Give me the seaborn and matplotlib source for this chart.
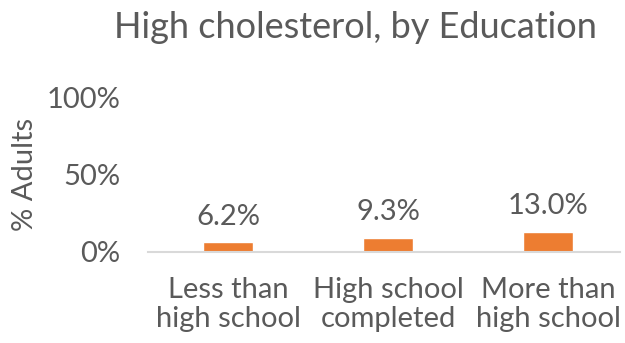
import matplotlib
matplotlib.use("Agg")
import matplotlib.pyplot as plt
import seaborn as sns
import pandas as pd

categories = ["Less than\nhigh school", "High school\ncompleted", "More than\nhigh school"]
values = [6.2, 9.3, 13.0]
value_labels = ["6.2%", "9.3%", "13.0%"]
yticks = [0, 50, 100]
ytick_labels = ["0%", "50%", "100%"]

sns.set_theme(style="white")
plt.rcParams["font.family"] = ["Lato", "DejaVu Sans"]

text_color = "#5A5A5A"
bar_color = "#ED7D31"
fs = 21

df = pd.DataFrame({"Education": categories, "Percent": values})

fig = plt.figure(figsize=(6.25, 3.43), dpi=100)
ax = fig.add_axes([148 / 625, 1 - 252 / 343, (620 - 148) / 625, (252 - 97) / 343])

sns.barplot(data=df, x="Education", y="Percent", color=bar_color, width=0.31,
            saturation=1, ax=ax)

ax.set_ylim(0, 100)
ax.set_xlim(-0.5, 2.45)
ax.set_yticks(yticks)
ax.set_yticklabels(ytick_labels, fontsize=fs, color=text_color, fontweight="normal")
ax.set_xticks(range(len(categories)))
ax.set_xticklabels(categories, fontsize=fs, color=text_color, fontweight="normal",
                   linespacing=1.15)
ax.tick_params(axis="y", length=0, pad=20)
ax.tick_params(axis="x", length=0, pad=18)
ax.set_xlabel("")
ax.set_ylabel("% Adults", fontsize=fs, color=text_color, fontweight="normal", labelpad=6)

for s in ["top", "right", "left"]:
    ax.spines[s].set_visible(False)
ax.spines["bottom"].set_color("#D9D9D9")
ax.spines["bottom"].set_linewidth(1.5)

for i, (v, lab) in enumerate(zip(values, value_labels)):
    ax.annotate(lab, (i, v), xytext=(0, 9), textcoords="offset points",
                ha="center", va="bottom", fontsize=fs, color=text_color,
                fontweight="normal")

fig.text(355 / 625, 1 - 28 / 343, "High cholesterol, by Education", ha="center",
         va="center", fontsize=26, color=text_color, fontweight="normal")

fig.savefig("out.png", dpi=100)
